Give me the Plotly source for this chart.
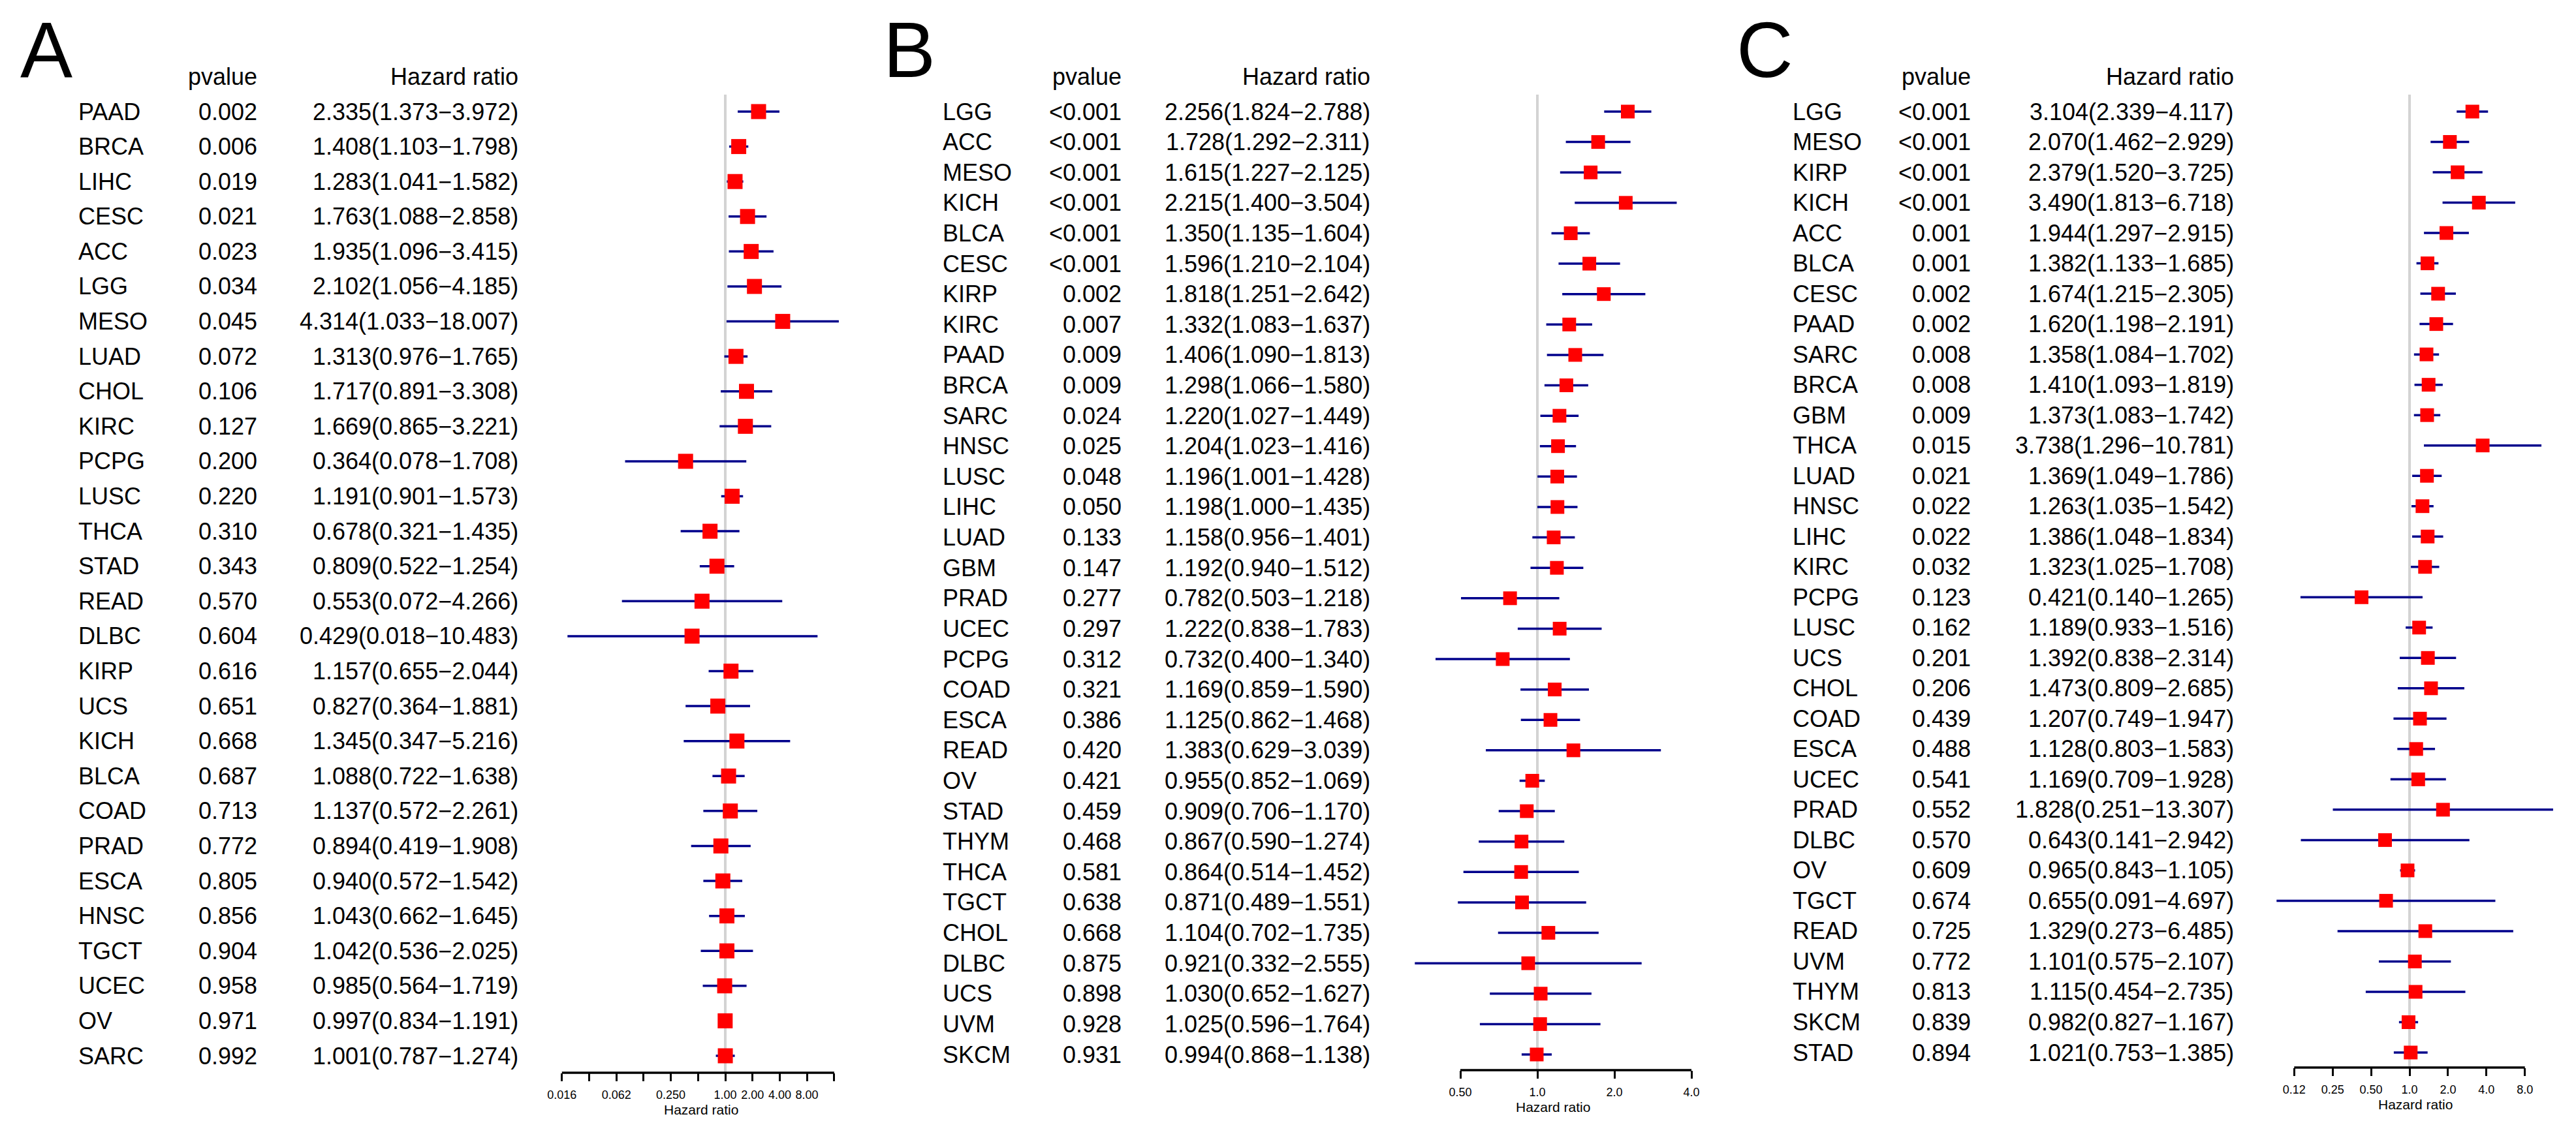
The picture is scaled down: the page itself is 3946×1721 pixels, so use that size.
import math
import plotly.graph_objects as go

W, H = 3946, 1721
FONT = "Liberation Sans"

# ---- panel A ----
a_names = ["PAAD", "BRCA", "LIHC", "CESC", "ACC", "LGG", "MESO", "LUAD", "CHOL", "KIRC",
           "PCPG", "LUSC", "THCA", "STAD", "READ", "DLBC", "KIRP", "UCS", "KICH", "BLCA",
           "COAD", "PRAD", "ESCA", "HNSC", "TGCT", "UCEC", "OV", "SARC"]
a_pvalues = ["0.002", "0.006", "0.019", "0.021", "0.023", "0.034", "0.045", "0.072", "0.106", "0.127",
             "0.200", "0.220", "0.310", "0.343", "0.570", "0.604", "0.616", "0.651", "0.668", "0.687",
             "0.713", "0.772", "0.805", "0.856", "0.904", "0.958", "0.971", "0.992"]
a_hr = [2.335, 1.408, 1.283, 1.763, 1.935, 2.102, 4.314, 1.313, 1.717, 1.669,
        0.364, 1.191, 0.678, 0.809, 0.553, 0.429, 1.157, 0.827, 1.345, 1.088,
        1.137, 0.894, 0.940, 1.043, 1.042, 0.985, 0.997, 1.001]
a_low = [1.373, 1.103, 1.041, 1.088, 1.096, 1.056, 1.033, 0.976, 0.891, 0.865,
         0.078, 0.901, 0.321, 0.522, 0.072, 0.018, 0.655, 0.364, 0.347, 0.722,
         0.572, 0.419, 0.572, 0.662, 0.536, 0.564, 0.834, 0.787]
a_high = [3.972, 1.798, 1.582, 2.858, 3.415, 4.185, 18.007, 1.765, 3.308, 3.221,
          1.708, 1.573, 1.435, 1.254, 4.266, 10.483, 2.044, 1.881, 5.216, 1.638,
          2.261, 1.908, 1.542, 1.645, 2.025, 1.719, 1.191, 1.274]
a_ticks = [2 ** k for k in range(-6, 5)]
a_ticklabels = ["0.016", "", "0.062", "", "0.250", "", "1.00", "2.00", "4.00", "8.00", ""]

# ---- panel B ----
b_names = ["LGG", "ACC", "MESO", "KICH", "BLCA", "CESC", "KIRP", "KIRC", "PAAD", "BRCA",
           "SARC", "HNSC", "LUSC", "LIHC", "LUAD", "GBM", "PRAD", "UCEC", "PCPG", "COAD",
           "ESCA", "READ", "OV", "STAD", "THYM", "THCA", "TGCT", "CHOL", "DLBC", "UCS",
           "UVM", "SKCM"]
b_pvalues = ["<0.001", "<0.001", "<0.001", "<0.001", "<0.001", "<0.001", "0.002", "0.007", "0.009", "0.009",
             "0.024", "0.025", "0.048", "0.050", "0.133", "0.147", "0.277", "0.297", "0.312", "0.321",
             "0.386", "0.420", "0.421", "0.459", "0.468", "0.581", "0.638", "0.668", "0.875", "0.898",
             "0.928", "0.931"]
b_hr = [2.256, 1.728, 1.615, 2.215, 1.350, 1.596, 1.818, 1.332, 1.406, 1.298,
        1.220, 1.204, 1.196, 1.198, 1.158, 1.192, 0.782, 1.222, 0.732, 1.169,
        1.125, 1.383, 0.955, 0.909, 0.867, 0.864, 0.871, 1.104, 0.921, 1.030,
        1.025, 0.994]
b_low = [1.824, 1.292, 1.227, 1.400, 1.135, 1.210, 1.251, 1.083, 1.090, 1.066,
         1.027, 1.023, 1.001, 1.000, 0.956, 0.940, 0.503, 0.838, 0.400, 0.859,
         0.862, 0.629, 0.852, 0.706, 0.590, 0.514, 0.489, 0.702, 0.332, 0.652,
         0.596, 0.868]
b_high = [2.788, 2.311, 2.125, 3.504, 1.604, 2.104, 2.642, 1.637, 1.813, 1.580,
          1.449, 1.416, 1.428, 1.435, 1.401, 1.512, 1.218, 1.783, 1.340, 1.590,
          1.468, 3.039, 1.069, 1.170, 1.274, 1.452, 1.551, 1.735, 2.555, 1.627,
          1.764, 1.138]
b_ticks = [0.5, 1, 2, 4]
b_ticklabels = ["0.50", "1.0", "2.0", "4.0"]

# ---- panel C ----
c_names = ["LGG", "MESO", "KIRP", "KICH", "ACC", "BLCA", "CESC", "PAAD", "SARC", "BRCA",
           "GBM", "THCA", "LUAD", "HNSC", "LIHC", "KIRC", "PCPG", "LUSC", "UCS", "CHOL",
           "COAD", "ESCA", "UCEC", "PRAD", "DLBC", "OV", "TGCT", "READ", "UVM", "THYM",
           "SKCM", "STAD"]
c_pvalues = ["<0.001", "<0.001", "<0.001", "<0.001", "0.001", "0.001", "0.002", "0.002", "0.008", "0.008",
             "0.009", "0.015", "0.021", "0.022", "0.022", "0.032", "0.123", "0.162", "0.201", "0.206",
             "0.439", "0.488", "0.541", "0.552", "0.570", "0.609", "0.674", "0.725", "0.772", "0.813",
             "0.839", "0.894"]
c_hr = [3.104, 2.070, 2.379, 3.490, 1.944, 1.382, 1.674, 1.620, 1.358, 1.410,
        1.373, 3.738, 1.369, 1.263, 1.386, 1.323, 0.421, 1.189, 1.392, 1.473,
        1.207, 1.128, 1.169, 1.828, 0.643, 0.965, 0.655, 1.329, 1.101, 1.115,
        0.982, 1.021]
c_low = [2.339, 1.462, 1.520, 1.813, 1.297, 1.133, 1.215, 1.198, 1.084, 1.093,
         1.083, 1.296, 1.049, 1.035, 1.048, 1.025, 0.140, 0.933, 0.838, 0.809,
         0.749, 0.803, 0.709, 0.251, 0.141, 0.843, 0.091, 0.273, 0.575, 0.454,
         0.827, 0.753]
c_high = [4.117, 2.929, 3.725, 6.718, 2.915, 1.685, 2.305, 2.191, 1.702, 1.819,
          1.742, 10.781, 1.786, 1.542, 1.834, 1.708, 1.265, 1.516, 2.314, 2.685,
          1.947, 1.583, 1.928, 13.307, 2.942, 1.105, 4.697, 6.485, 2.107, 2.735,
          1.167, 1.385]
c_ticks = [0.125, 0.25, 0.5, 1, 2, 4, 8]
c_ticklabels = ["0.12", "0.25", "0.50", "1.0", "2.0", "4.0", "8.0"]

# pixel placement of each panel (letter, text columns, plot area)
panels = [
    dict(letter="A", names=a_names, pv=a_pvalues, hr=a_hr, lo=a_low, hi=a_high,
         ticks=a_ticks, ticklabels=a_ticklabels,
         letter_x=21, name_x=110, pv_x=388, hr_x=788, first=163, last=1610, axis=1636,
         one=1103, per2=41.7, left=820, right=1300, title_x=1066, box=23),
    dict(letter="B", names=b_names, pv=b_pvalues, hr=b_hr, lo=b_low, hi=b_high,
         ticks=b_ticks, ticklabels=b_ticklabels,
         letter_x=1343, name_x=1434, pv_x=1712, hr_x=2093, first=163, last=1608, axis=1632,
         one=2347, per2=118.0, left=2130, right=2620, title_x=2371, box=21),
    dict(letter="C", names=c_names, pv=c_pvalues, hr=c_hr, lo=c_low, hi=c_high,
         ticks=c_ticks, ticklabels=c_ticklabels,
         letter_x=2650, name_x=2736, pv_x=3013, hr_x=3416, first=163, last=1605, axis=1628,
         one=3683, per2=58.9, left=3440, right=3945, title_x=3692, box=21),
]

TXT = 36       # table font size
LETTER = 120   # panel letter size

fig = go.Figure()
annotations = []
shapes = []
layout_axes = {}

for i, p in enumerate(panels):
    sfx = "" if i == 0 else str(i + 1)
    n = len(p["names"])
    rows = list(range(n))
    step = (p["last"] - p["first"]) / (n - 1)
    y_lo = -p["first"] / step
    y_hi = (p["axis"] - p["first"]) / step

    per_dec = p["per2"] / math.log10(2)
    x_r0 = -(p["one"] - p["left"]) / per_dec
    x_r1 = (p["right"] - p["one"]) / per_dec

    # reference line at HR = 1
    fig.add_trace(go.Scatter(
        x=[1, 1], y=[-26 / step, y_hi],
        mode="lines", line=dict(color="#d3d3d3", width=4),
        xaxis="x" + sfx, yaxis="y" + sfx, hoverinfo="skip"))

    # CI whiskers + boxes
    fig.add_trace(go.Scatter(
        x=p["hr"], y=rows, mode="markers",
        marker=dict(symbol="square", size=p["box"], color="#ff0000", line=dict(width=0)),
        error_x=dict(type="data", symmetric=False,
                     array=[h - m for h, m in zip(p["hi"], p["hr"])],
                     arrayminus=[m - l for m, l in zip(p["hr"], p["lo"])],
                     width=0, thickness=3.5, color="#00008b"),
        xaxis="x" + sfx, yaxis="y" + sfx, name=p["letter"]))

    layout_axes["xaxis" + sfx] = dict(
        type="log", range=[x_r0, x_r1], domain=[p["left"] / W, p["right"] / W],
        anchor="y" + sfx, showgrid=False, zeroline=False, showline=False,
        ticks="outside", ticklen=12, tickwidth=3, tickcolor="black",
        tickmode="array", tickvals=p["ticks"], ticktext=p["ticklabels"],
        tickfont=dict(family=FONT, size=18, color="black"), ticklabelstandoff=5)
    layout_axes["yaxis" + sfx] = dict(
        range=[y_hi, y_lo], domain=[1 - p["axis"] / H, 1], anchor="x" + sfx,
        visible=False, showgrid=False, zeroline=False)

    # axis line between first and last tick
    shapes.append(dict(type="line", xref="x" + sfx, yref="paper",
                       x0=p["ticks"][0], x1=p["ticks"][-1],
                       y0=1 - p["axis"] / H, y1=1 - p["axis"] / H,
                       line=dict(color="black", width=3.3)))

    # panel letter (baseline near y=112 px) and column headers
    annotations.append(dict(text=p["letter"], xref="paper", yref="paper",
                            x=p["letter_x"] / W, y=1 - (112 + 0.212 * LETTER) / H,
                            xanchor="left", yanchor="bottom",
                            showarrow=False, font=dict(family=FONT, size=LETTER, color="black")))
    annotations.append(dict(text="pvalue", xref="paper", yref="paper",
                            x=p["pv_x"] / W, y=1 - 109 / H, xanchor="right", yanchor="middle",
                            showarrow=False, font=dict(family=FONT, size=TXT, color="black")))
    annotations.append(dict(text="Hazard ratio", xref="paper", yref="paper",
                            x=p["hr_x"] / W, y=1 - 109 / H, xanchor="right", yanchor="middle",
                            showarrow=False, font=dict(family=FONT, size=TXT, color="black")))
    annotations.append(dict(text="Hazard ratio", xref="paper", yref="paper",
                            x=p["title_x"] / W, y=1 - (p["axis"] + 56) / H,
                            xanchor="center", yanchor="middle",
                            showarrow=False, font=dict(family=FONT, size=21, color="black")))

    # table rows
    for r in rows:
        hr_text = "{:.3f}({:.3f}\u2212{:.3f})".format(p["hr"][r], p["lo"][r], p["hi"][r])
        for txt, xpx, anc in [(p["names"][r], p["name_x"], "left"),
                              (p["pv"][r], p["pv_x"], "right"),
                              (hr_text, p["hr_x"], "right")]:
            annotations.append(dict(text=txt, xref="paper", yref="y" + sfx,
                                    x=xpx / W, y=r, xanchor=anc, yanchor="middle",
                                    showarrow=False,
                                    font=dict(family=FONT, size=TXT, color="black")))

fig.update_layout(
    width=W, height=H,
    margin=dict(l=0, r=0, t=0, b=0),
    paper_bgcolor="white", plot_bgcolor="white",
    showlegend=False,
    annotations=annotations,
    shapes=shapes,
    **layout_axes
)

fig.write_html("out.html")
